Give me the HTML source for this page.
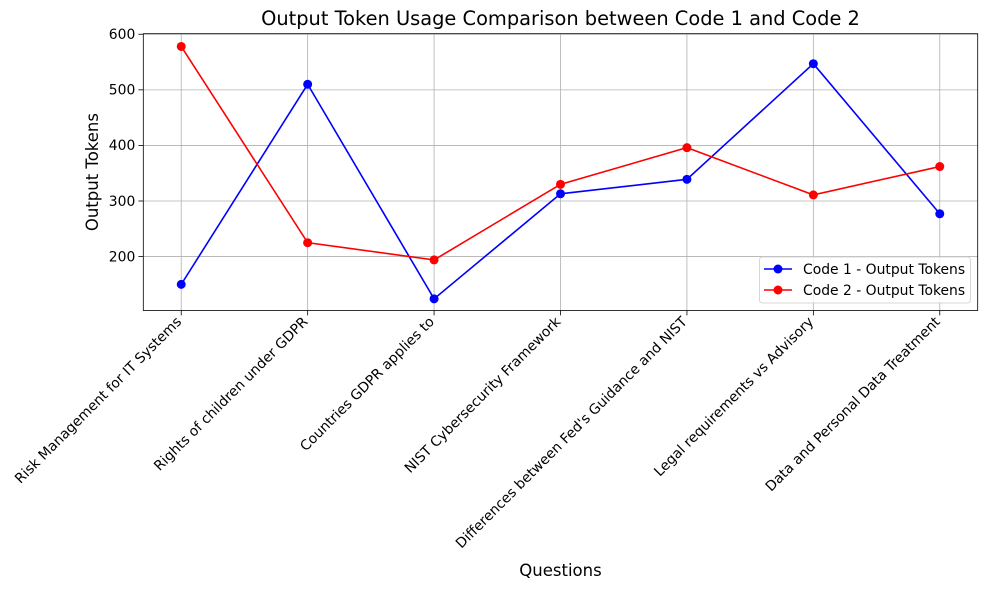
<!DOCTYPE html>
<html><head><meta charset="utf-8"><style>
body{margin:0;background:#fff}
svg text{font-family:"DejaVu Sans","Liberation Sans",sans-serif;fill:#000}
</style></head><body>
<svg id="chart" width="987" height="590" xmlns="http://www.w3.org/2000/svg"></svg>
<script>
const categories=["Risk Management for IT Systems","Rights of children under GDPR","Countries GDPR applies to","NIST Cybersecurity Framework","Differences between Fed's Guidance and NIST","Legal requirements vs Advisory","Data and Personal Data Treatment"];
const code1Values=[150,510,124,313,339,547,277];
const code2Values=[578,225,194,330,396,311,362];
const yTicks=[200,300,400,500,600];
const seriesNames=["Code 1 - Output Tokens","Code 2 - Output Tokens"];

const L=143.3,R=977.7,T=33.7,B=310.5;
const yMin=103,yMax=601;
const xs=i=>L+(i+0.3)/6.6*(R-L);
const ys=v=>B-(v-yMin)/(yMax-yMin)*(B-T);
const svg=document.getElementById('chart');
const NS="http://www.w3.org/2000/svg";
function mk(tag,attrs,parent){const e=document.createElementNS(NS,tag);for(const k in attrs)e.setAttribute(k,attrs[k]);(parent||svg).appendChild(e);return e;}

categories.forEach((c,i)=>{
  const g=mk('line',{x1:xs(i),x2:xs(i),y1:T,y2:B,stroke:'#b0b0b0','stroke-width':0.8});
  
  
  const t=mk('line',{x1:xs(i),x2:xs(i),y1:B,y2:B+4.9,stroke:'#000','stroke-width':0.8});
  
  
  const ax=xs(i)+1, ay=B+12;
  const lbl=mk('text',{x:ax,y:ay,'font-size':13.9,'text-anchor':'end',transform:`rotate(-45 ${ax} ${ay})`});
  lbl.textContent=c;
  
  
});
yTicks.forEach(v=>{
  const g=mk('line',{x1:L,x2:R,y1:ys(v),y2:ys(v),stroke:'#b0b0b0','stroke-width':0.8});
  
  
  const t=mk('line',{x1:L-4.9,x2:L,y1:ys(v),y2:ys(v),stroke:'#000','stroke-width':0.8});
  
  
  const lbl=mk('text',{x:L-8,y:ys(v)+4.8,'font-size':13.9,'text-anchor':'end'});
  lbl.textContent=v;
  
  
});

function series(vals,color,name){
  const pts=vals.map((v,i)=>xs(i)+','+ys(v)).join(' ');
  const pl=mk('polyline',{points:pts,fill:'none',stroke:color,'stroke-width':1.6});
  
  
  vals.forEach((v,i)=>{
    const c=mk('circle',{cx:xs(i),cy:ys(v),r:4.5,fill:color});
    
    
  });
}
series(code1Values,'#0000ff','code1');
series(code2Values,'#ff0000','code2');

const frame=mk('rect',{x:L,y:T,width:R-L,height:B-T,fill:'none',stroke:'#000','stroke-width':0.8});



const title=mk('text',{x:(L+R)/2,y:25,'font-size':19.4,'text-anchor':'middle'});
title.textContent='Output Token Usage Comparison between Code 1 and Code 2';


const xl=mk('text',{x:(L+R)/2,y:576,'font-size':16.5,'text-anchor':'middle'});
xl.textContent='Questions';


const yl=mk('text',{x:0,y:0,'font-size':16.5,'text-anchor':'middle',transform:`translate(98 ${(T+B)/2}) rotate(-90)`});
yl.textContent='Output Tokens';



const lg=mk('g',{});


mk('rect',{x:759.5,y:257,width:211,height:46,rx:3,fill:'#fff','fill-opacity':0.8,stroke:'#ccc','stroke-width':0.8},lg);
[['#0000ff',seriesNames[0]],['#ff0000',seriesNames[1]]].forEach((s,k)=>{
  const y=269+k*21;
  const e=mk('g',{},lg);
  
  
  mk('line',{x1:764,x2:792,y1:y,y2:y,stroke:s[0],'stroke-width':1.6},e);
  mk('circle',{cx:778,cy:y,r:4.5,fill:s[0]},e);
  const t=mk('text',{x:803,y:y+4.8,'font-size':13.9},e);
  t.textContent=s[1];
});
</script>
</body></html>
